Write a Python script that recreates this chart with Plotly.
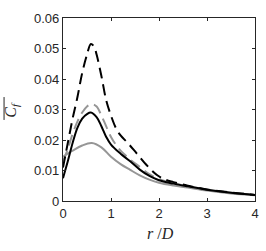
import plotly.graph_objects as go

# r/D positions and mean skin-friction coefficient series
r_black_dash = [0, 0.1, 0.2, 0.3, 0.4, 0.5, 0.58, 0.65, 0.7, 0.8, 0.9, 1.0, 1.1, 1.2, 1.35, 1.53, 1.74, 1.95, 2.1, 2.3, 2.6, 3.0, 3.5, 4.0]
cf_black_dash = [0.011, 0.019, 0.027, 0.034, 0.042, 0.048, 0.0515, 0.0505, 0.048, 0.041, 0.033, 0.028, 0.024, 0.0215, 0.019, 0.0157, 0.0118, 0.0086, 0.0072, 0.0062, 0.005, 0.0038, 0.0028, 0.002]

r_gray_dash = [0, 0.1, 0.2, 0.3, 0.4, 0.5, 0.6, 0.7, 0.8, 0.9, 1.0, 1.1, 1.2, 1.3, 1.4, 1.6, 1.8, 2.0, 2.3, 2.6, 3.0, 3.5, 4.0]
cf_gray_dash = [0.013, 0.017, 0.022, 0.026, 0.029, 0.031, 0.0318, 0.031, 0.028, 0.0245, 0.021, 0.0185, 0.0165, 0.015, 0.0136, 0.0112, 0.0088, 0.0072, 0.0058, 0.0048, 0.0036, 0.0027, 0.002]

r_black = [0, 0.1, 0.2, 0.3, 0.4, 0.5, 0.58, 0.7, 0.8, 0.9, 1.0, 1.2, 1.4, 1.6, 1.8, 2.0, 2.3, 2.6, 3.0, 3.5, 4.0]
cf_black = [0.0075, 0.013, 0.019, 0.024, 0.027, 0.0285, 0.029, 0.0275, 0.0245, 0.021, 0.0185, 0.0155, 0.013, 0.0103, 0.0082, 0.0068, 0.0057, 0.0048, 0.0037, 0.0027, 0.002]

r_gray = [0, 0.2, 0.4, 0.6, 0.8, 1.0, 1.2, 1.4, 1.6, 1.8, 2.0, 2.3, 2.6, 3.0, 3.5, 4.0]
cf_gray = [0.0145, 0.0165, 0.0182, 0.019, 0.0176, 0.0145, 0.0121, 0.0102, 0.0084, 0.007, 0.006, 0.0051, 0.0044, 0.0034, 0.0025, 0.0019]

x_ticks = [0, 1, 2, 3, 4]
y_ticks = [0, 0.01, 0.02, 0.03, 0.04, 0.05, 0.06]
y_tick_text = ["0", "0.01", "0.02", "0.03", "0.04", "0.05", "0.06"]

GRAY = "rgb(150,150,150)"
INK = "#262626"
DASH = "11px,6px"

fig = go.Figure()
fig.add_trace(go.Scatter(x=r_gray, y=cf_gray, mode="lines", line=dict(color=GRAY, width=2, shape="spline")))
fig.add_trace(go.Scatter(x=r_gray_dash, y=cf_gray_dash, mode="lines", line=dict(color=GRAY, width=2, dash=DASH, shape="spline")))
fig.add_trace(go.Scatter(x=r_black, y=cf_black, mode="lines", line=dict(color="black", width=2, shape="spline")))
fig.add_trace(go.Scatter(x=r_black_dash, y=cf_black_dash, mode="lines", line=dict(color="black", width=2, dash=DASH, shape="spline")))

axis_common = dict(
    showgrid=False, zeroline=False, ticks="inside", ticklen=3, tickwidth=1,
    tickcolor=INK, linecolor=INK, linewidth=1.3, mirror="ticks", automargin=False,
    showline=True, tickfont=dict(family="Liberation Sans, Arial", size=13, color=INK),
)

fig.update_layout(
    width=266, height=251,
    margin=dict(l=63, r=11, t=18, b=50),
    paper_bgcolor="white", plot_bgcolor="white",
    showlegend=False,
    xaxis=dict(range=[0, 4], tickvals=x_ticks, **axis_common),
    yaxis=dict(range=[0, 0.06], tickvals=y_ticks, ticktext=y_tick_text, **axis_common),
    annotations=[
        dict(text="<i>r</i> /<i>D</i>", xref="paper", yref="paper", x=0.51, y=-0.18,
             xanchor="center", yanchor="middle", showarrow=False,
             font=dict(family="Liberation Serif, Times New Roman", size=16, color=INK)),
        dict(text="<i>C<sub>f</sub></i>", xref="paper", yref="paper", x=-0.27, y=0.5,
             xanchor="center", yanchor="middle", showarrow=False, textangle=-90,
             font=dict(family="Liberation Serif, Times New Roman", size=16, color=INK)),
    ],
    shapes=[
        dict(type="line", xref="paper", yref="paper", x0=-0.307, x1=-0.307, y0=0.443, y1=0.568,
             line=dict(color=INK, width=1)),
    ],
)

fig.write_html("out.html", config={"displayModeBar": False},
               post_script="document.body.style.margin='0';document.body.style.padding='0';")
